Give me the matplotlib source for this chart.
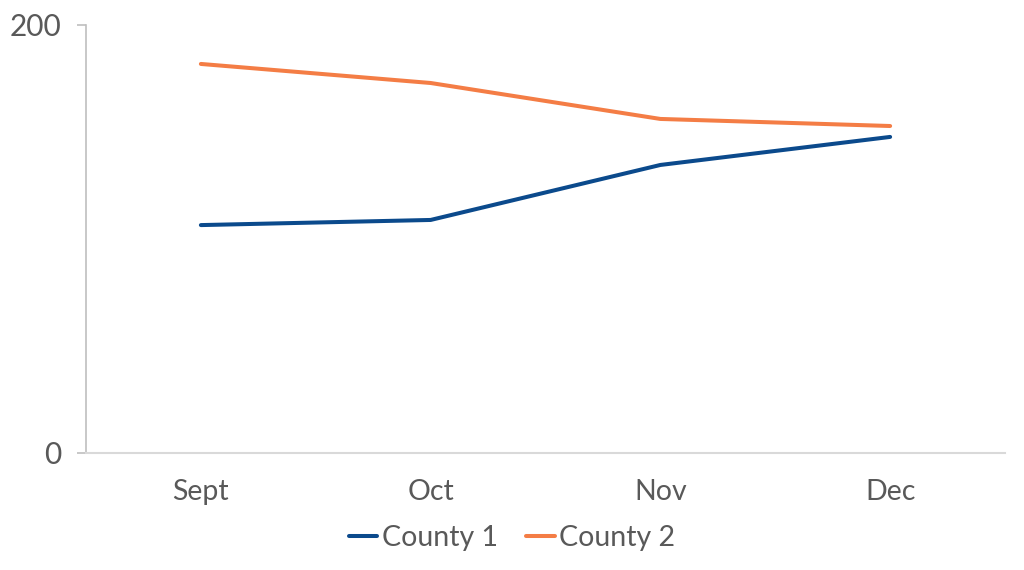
# two county series, Sept to Dec
import matplotlib.pyplot as plt

months = ['Sept', 'Oct', 'Nov', 'Dec']
county_1 = [106.5, 108.9, 134.6, 147.7]
county_2 = [181.8, 172.9, 156.1, 152.8]

plt.rcParams['font.family'] = ['Lato', 'DejaVu Sans']

fig = plt.figure(figsize=(10.24, 5.70), dpi=100)
ax = fig.add_axes([86 / 1024, 117 / 570, 919 / 1024, 428 / 570])

x = range(len(months))
ax.plot(x, county_1, color='#0b4a8c', linewidth=2.9, label='County 1', solid_capstyle='round')
ax.plot(x, county_2, color='#f47d45', linewidth=2.9, label='County 2', solid_capstyle='round')

ax.set_xlim(-0.5, len(months) - 0.5)
ax.set_ylim(0, 200)
ax.set_yticks([0, 200])
ax.set_xticks(list(x))
ax.set_xticklabels(months)

for side in ['top', 'right']:
    ax.spines[side].set_visible(False)
ax.spines['left'].set_color('#bfbfbf')
ax.spines['bottom'].set_color('#d9d9d9')
ax.spines['left'].set_linewidth(1.2)
ax.spines['bottom'].set_linewidth(1.5)

ax.tick_params(axis='y', length=6.5, width=1.2, color='#bfbfbf', pad=11,
               labelsize=21.5, labelcolor='#595959')
ax.tick_params(axis='x', length=0, pad=19, labelsize=20.5, labelcolor='#595959')

fig.legend(loc='center', bbox_to_anchor=(0.5, 1 - 538 / 570), ncol=2, frameon=False,
           fontsize=20.5, labelcolor='#595959', handlelength=1.0, handletextpad=0.15,
           columnspacing=1.0)

fig.savefig('out.png', dpi=100)
